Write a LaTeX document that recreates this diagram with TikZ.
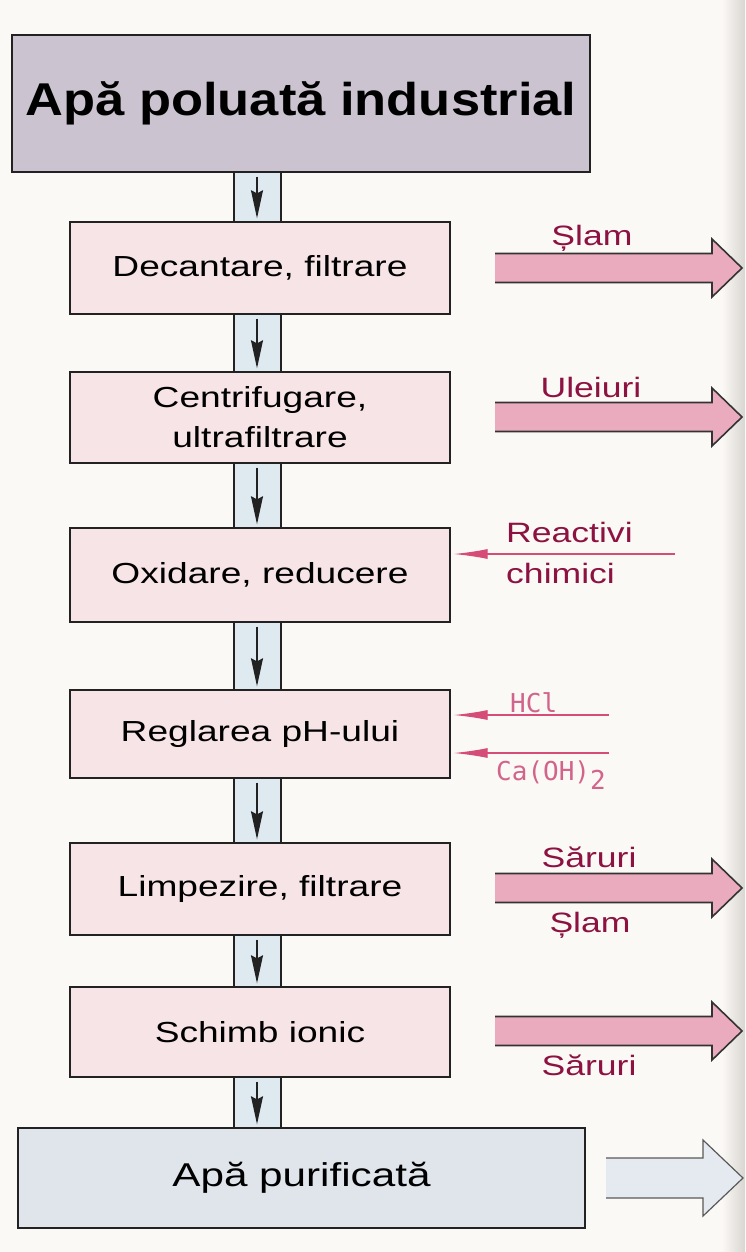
\documentclass[tikz,border=0pt]{standalone}
\usepackage{fontspec}
\setmainfont{Liberation Sans}
\newfontfamily\bodyf[FakeStretch=1.28]{Liberation Sans}
\newfontfamily\titlef[FakeStretch=1.14]{Liberation Sans}
\newfontfamily\labf[FakeStretch=1.27]{Liberation Sans}
\newfontfamily\chemf{DejaVu Sans Mono}
\usetikzlibrary{arrows.meta,calc}
\definecolor{paper}{HTML}{FBF9F5}
\definecolor{edgegrey}{HTML}{D9D6D2}
\definecolor{boxpink}{HTML}{F7E4E7}
\definecolor{titlefill}{HTML}{CBC3CF}
\definecolor{purefill}{HTML}{DFE5EB}
\definecolor{boxline}{HTML}{222222}
\definecolor{connfill}{HTML}{DFEAF0}
\definecolor{flowpink}{HTML}{EBABBE}
\definecolor{flowblue}{HTML}{E4EAF0}
\definecolor{labred}{HTML}{8C1242}
\definecolor{reagpink}{HTML}{D64C78}
\definecolor{chempink}{HTML}{D2648C}
\begin{document}
\begin{tikzpicture}[x=1pt,y=-1pt,
  stagebox/.style={draw=boxline, line width=1.4pt, fill=boxpink, inner sep=0pt,
    align=center, minimum width=380pt, font=\bodyf\fontsize{29}{40}\selectfont},
  titlebox/.style={draw=boxline, line width=1.4pt, fill=titlefill, inner sep=0pt,
    minimum width=578pt, minimum height=137pt, font=\titlef\bfseries\fontsize{46}{50}\selectfont},
  purebox/.style={draw=boxline, line width=1.4pt, fill=purefill, inner sep=0pt,
    minimum width=567pt, minimum height=100pt, font=\bodyf\fontsize{33}{40}\selectfont},
  connside/.style={draw=boxline, line width=1.4pt},
  connarrow/.style={draw=boxline, line width=1.3pt, -{Stealth[length=28pt,width=12pt,inset=3pt]}},
  flowline/.style={draw=black!80, line width=1.6pt, line join=miter},
  pureline/.style={draw=black!65, line width=1.2pt, line join=miter},
  reag/.style={draw=reagpink, line width=1.3pt, -{Latex[length=34pt,width=10pt]}},
  lab/.style={text=labred, inner sep=0pt, font=\labf\fontsize{28}{34}\selectfont},
  chem/.style={text=chempink, inner sep=0pt, font=\chemf\fontsize{26}{30}\selectfont}
]
\useasboundingbox (0,0) rectangle (745,1252);
\fill[paper] (0,0) rectangle (745,1252);
\shade[left color=paper, right color=edgegrey] (722,0) rectangle (745,1252);

% stages
\node[titlebox] (t) at (301,103.5) {Apă poluată industrial};
\node[stagebox, minimum height=92pt] (b1) at (260,268) {Decantare, filtrare};
\node[stagebox, minimum height=91pt] (b2) at (260,417.5) {Centrifugare,\\ultrafiltrare};
\node[stagebox, minimum height=94pt] (b3) at (260,575) {Oxidare, reducere};
\node[stagebox, minimum height=88pt] (b4) at (260,734) {Reglarea pH-ului};
\node[stagebox, minimum height=92pt] (b5) at (260,889) {Limpezire, filtrare};
\node[stagebox, minimum height=90pt] (b6) at (260,1032) {Schimb ionic};
\node[purebox] (b7) at (301.5,1178) {Apă purificată};

% vertical connectors
\coordinate (cl) at (234,0);
\coordinate (cr) at (281,0);
\coordinate (cm) at (257,0);
\foreach \a/\b in {t/b1,b1/b2,b2/b3,b3/b4,b4/b5,b5/b6,b6/b7}{
  \fill[connfill] (\a.south -| cl) rectangle (\b.north -| cr);
  \draw[connside] (\a.south -| cl) -- (\b.north -| cl);
  \draw[connside] (\a.south -| cr) -- (\b.north -| cr);
  \draw[connarrow] ($(\a.south -| cm)+(0,4)$) -- ($(\b.north -| cm)+(0,-3)$);
}

% output flows (big arrows)
\foreach \yc in {268,417,888,1031}{
  \fill[flowpink] (495,\yc-14.5) -- (712,\yc-14.5) -- (712,\yc-29) -- (742,\yc)
    -- (712,\yc+29) -- (712,\yc+14.5) -- (495,\yc+14.5) -- cycle;
  \draw[flowline] (495,\yc-14.5) -- (712,\yc-14.5) -- (712,\yc-29) -- (742,\yc)
    -- (712,\yc+29) -- (712,\yc+14.5) -- (495,\yc+14.5);
}
\fill[flowblue] (606,1158) -- (703,1158) -- (703,1140) -- (743,1178)
  -- (703,1216) -- (703,1198) -- (606,1198) -- cycle;
\draw[pureline] (606,1158) -- (703,1158) -- (703,1140) -- (743,1178)
  -- (703,1216) -- (703,1198) -- (606,1198);

% reagent inputs
\coordinate (r1) at (675,554);
\coordinate (r2) at (609,715);
\coordinate (r3) at (609,753);
\draw[reag] (r1) -- ($(r1 -| b3.east)+(3,0)$);
\draw[reag] (r2) -- ($(r2 -| b4.east)+(3,0)$);
\draw[reag] (r3) -- ($(r3 -| b4.east)+(3,0)$);

% labels
\node[lab, anchor=base] (l1) at (592,245) {Șlam};
\node[lab, anchor=base] (l2) at (591,397) {Uleiuri};
\node[lab, anchor=base west] (l3) at (506,542) {Reactivi};
\node[lab, anchor=base west] (l4) at (506,583) {chimici};
\node[chem, anchor=base west] (l5) at (510,712) {HCl};
\node[chem, anchor=base west] (l6) at (496,780) {Ca(OH)\raisebox{-9pt}{2}};
\node[lab, anchor=base] (l7) at (589,867) {Săruri};
\node[lab, anchor=base] (l8) at (590,932) {Șlam};
\node[lab, anchor=base] (l9) at (589,1075) {Săruri};
\end{tikzpicture}
\end{document}
